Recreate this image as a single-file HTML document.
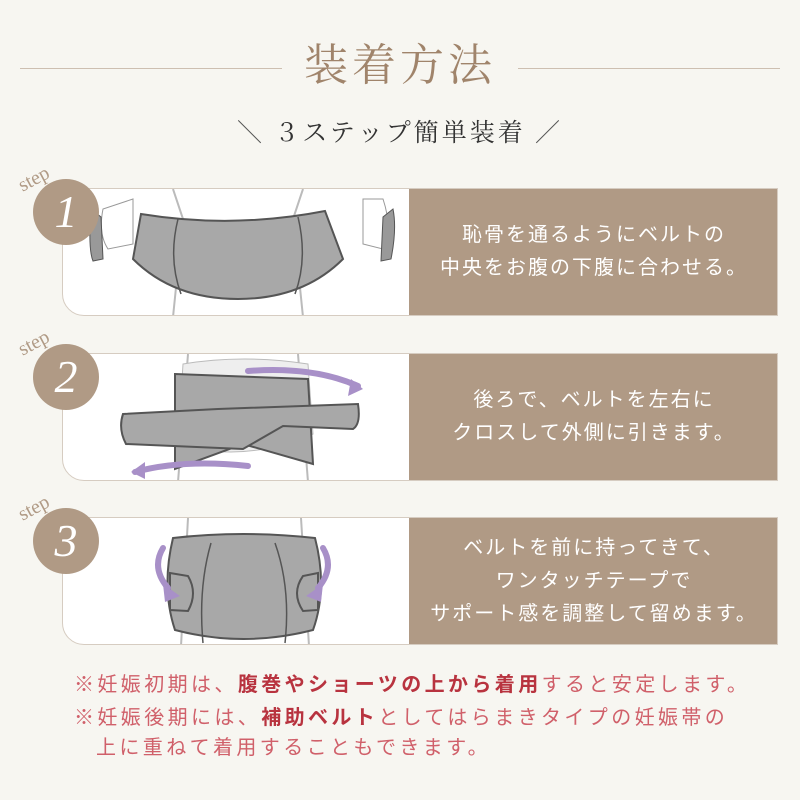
<!DOCTYPE html>
<html><head><meta charset="utf-8"><style>
body{margin:0;width:800px;height:800px;background:#f7f6f1;position:relative;overflow:hidden;font-family:"Liberation Sans","Noto Sans CJK JP",sans-serif}
.abs{position:absolute}
.title{left:0;width:800px;top:38px;text-align:center;font-family:"Liberation Serif","Noto Serif CJK SC",serif;font-size:44px;color:#a0846b;letter-spacing:4px;line-height:56px}
.sub{left:0;width:800px;top:114px;text-align:center;font-family:"Liberation Serif","Noto Serif CJK SC",serif;font-size:25px;color:#333;letter-spacing:3px;line-height:40px}
.card{left:62px;width:716px;height:128px;background:#fff;border:1px solid #d6ccc1;border-radius:0 0 0 22px;box-sizing:border-box;overflow:hidden}
.panel{left:346px;top:0;width:370px;height:100%;background:#b09a85;color:#fff;font-size:20px;line-height:33px;text-align:center;display:flex;align-items:center;justify-content:center;letter-spacing:2px}
.circ{width:66px;height:66px;border-radius:50%;background:#b09a85;color:#fff;font-family:"Liberation Serif",serif;font-style:italic;font-size:46px;line-height:66px;text-align:center}
.step{font-family:"Liberation Serif",serif;color:#b09a85;font-size:20px;transform:rotate(-28deg)}
.note{left:74px;font-size:20px;color:#d0606a;letter-spacing:3.4px;line-height:30px;white-space:nowrap}
.note b{color:#b8333f}
</style></head><body>
<div class="abs" style="left:20px;top:68px;width:262px;height:1px;background:#cdbfb1"></div>
<div class="abs" style="left:518px;top:68px;width:262px;height:1px;background:#cdbfb1"></div>
<div class="abs title">装着方法</div>
<div class="abs sub"><span style="color:#555">＼</span>&nbsp;３ステップ簡単装着&nbsp;<span style="color:#555">／</span></div>

<div class="abs card" style="top:188px">
<svg width="346" height="128" class="abs" style="left:0;top:0">
<path d="M110 0 L120 30 L110 128 M240 0 L230 30 L240 128" stroke="#bbb" stroke-width="2" fill="none"/>
<path d="M40 20 Q35 45 45 60 L70 55 L70 10Z M300 10 L300 55 L320 60 Q330 40 320 10Z" fill="#fff" stroke="#999"/>
<path d="M78 25 Q170 40 262 22 L280 70 Q240 110 175 110 Q110 110 70 70Z" fill="#a8a8a8" stroke="#555" stroke-width="2"/>
<path d="M115 30 Q105 70 118 105 M235 28 Q245 70 232 105" stroke="#555" fill="none" stroke-width="1.5"/>
<path d="M28 20 Q25 60 30 72 L40 70 L38 28Z M320 28 L318 72 L328 70 Q334 40 330 20Z" fill="#999" stroke="#555"/>
</svg>
<div class="abs panel">恥骨を通るようにベルトの<br>中央をお腹の下腹に合わせる。</div></div>

<div class="abs card" style="top:353px">
<svg width="346" height="128" class="abs" style="left:0;top:0">
<path d="M125 0 L115 128 M235 0 L245 128" stroke="#bbb" stroke-width="2" fill="none"/>
<path d="M120 10 Q180 0 245 10 L250 80 Q180 110 115 90Z" fill="#eee" stroke="#bbb"/>
<path d="M112 20 L245 25 L250 110 L180 90 L112 115Z" fill="#a8a8a8" stroke="#555" stroke-width="2"/>
<path d="M60 60 L155 55 L295 50 Q298 70 290 75 L220 72 L180 95 L63 90 Q55 75 60 60Z" fill="#a8a8a8" stroke="#555" stroke-width="2"/>
<path d="M185 17 Q250 12 295 32" stroke="#a890c8" stroke-width="6" fill="none" stroke-linecap="round"/>
<path d="M185 112 Q120 105 72 118" stroke="#a890c8" stroke-width="6" fill="none" stroke-linecap="round"/>
<path d="M300 35 L288 25 L285 42Z M68 118 L82 108 L82 125Z" fill="#a890c8"/>
</svg>
<div class="abs panel">後ろで、ベルトを左右に<br>クロスして外側に引きます。</div></div>

<div class="abs card" style="top:517px">
<svg width="346" height="128" class="abs" style="left:0;top:0">
<path d="M125 0 L118 128 M238 0 L246 128" stroke="#bbb" stroke-width="2" fill="none"/>
<path d="M110 20 Q180 12 252 20 Q265 70 250 112 Q180 130 112 112 Q98 70 110 20Z" fill="#a8a8a8" stroke="#555" stroke-width="2"/>
<path d="M148 25 Q135 70 140 125 M212 25 Q228 70 222 125" stroke="#555" fill="none" stroke-width="1.5"/>
<path d="M107 55 L125 58 Q135 75 125 93 L107 92Z M255 55 L240 58 Q228 75 240 93 L255 92Z" fill="#a8a8a8" stroke="#555" stroke-width="2"/>
<path d="M100 30 Q88 50 105 70 M260 30 Q272 50 255 70" stroke="#a890c8" stroke-width="6" fill="none" stroke-linecap="round"/>
<path d="M117 78 L100 66 L102 84Z M243 78 L260 66 L258 84Z" fill="#a890c8"/>
</svg>
<div class="abs panel">ベルトを前に持ってきて、<br>ワンタッチテープで<br>サポート感を調整して留めます。</div></div>

<div class="abs step" style="left:18px;top:168px">step</div>
<div class="abs circ" style="left:33px;top:179px">1</div>
<div class="abs step" style="left:18px;top:332px">step</div>
<div class="abs circ" style="left:33px;top:344px">2</div>
<div class="abs step" style="left:18px;top:497px">step</div>
<div class="abs circ" style="left:33px;top:508px">3</div>

<div class="abs note" style="top:670px">※妊娠初期は、<b>腹巻やショーツの上から着用</b>すると安定します。</div>
<div class="abs note" style="top:703px">※妊娠後期には、<b>補助ベルト</b>としてはらまきタイプの妊娠帯の</div>
<div class="abs note" style="top:733px;left:96px">上に重ねて着用することもできます。</div>
</body></html>
